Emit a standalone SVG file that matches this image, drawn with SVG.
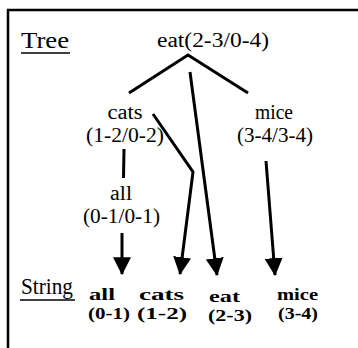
<svg xmlns="http://www.w3.org/2000/svg" width="358" height="348" viewBox="0 0 358 348">
<defs>
<marker id="ah" markerUnits="userSpaceOnUse" markerWidth="18" markerHeight="18" viewBox="0 0 16 16" refX="15" refY="8" orient="auto">
<path d="M0,0 L16,8 L0,16 Z" fill="#000"/>
</marker>
<style>
text{font-family:"Liberation Serif","Times New Roman",serif;fill:#000}
.t{font-size:20px}
.h{font-size:23px}
.b{font-size:17px;font-weight:bold}
.ln{stroke:#000;stroke-width:3;fill:none;stroke-linejoin:miter}
.ar{stroke:#000;stroke-width:3;fill:none;marker-end:url(#ah)}
.fr{stroke:#000;stroke-width:2.5;fill:none}
</style>
</defs>
<rect width="358" height="348" fill="#fff"/>
<path class="fr" d="M8,348 V10 H358"/>
<g id="label-tree">
<text class="h" x="21" y="48" textLength="48" lengthAdjust="spacingAndGlyphs">Tree</text>
<line x1="21" y1="53" x2="70" y2="53" stroke="#000" stroke-width="1.5"/>
</g>
<g id="label-string">
<text class="h" x="21" y="294" textLength="52" lengthAdjust="spacingAndGlyphs">String</text>
<line x1="20" y1="300" x2="75" y2="300" stroke="#000" stroke-width="1.5"/>
</g>
<g id="node-eat">
<text class="t" x="157" y="47" textLength="112" lengthAdjust="spacingAndGlyphs">eat(2-3/0-4)</text>
</g>
<g id="node-cats">
<text class="t" x="125" y="119" text-anchor="middle" textLength="35" lengthAdjust="spacingAndGlyphs">cats</text>
<text class="t" x="86" y="142" textLength="78" lengthAdjust="spacingAndGlyphs">(1-2/0-2)</text>
</g>
<g id="node-mice">
<text class="t" x="274" y="119" text-anchor="middle" textLength="38" lengthAdjust="spacingAndGlyphs">mice</text>
<text class="t" x="237" y="142" textLength="76" lengthAdjust="spacingAndGlyphs">(3-4/3-4)</text>
</g>
<g id="node-all">
<text class="t" x="121" y="200" text-anchor="middle" textLength="22" lengthAdjust="spacingAndGlyphs">all</text>
<text class="t" x="83" y="223" textLength="77" lengthAdjust="spacingAndGlyphs">(0-1/0-1)</text>
</g>
<g id="word-all">
<text class="b" x="89" y="300" textLength="26" lengthAdjust="spacingAndGlyphs">all</text>
<text class="b" x="88" y="319" textLength="42" lengthAdjust="spacingAndGlyphs">(0-1)</text>
</g>
<g id="word-cats">
<text class="b" x="139" y="300" textLength="45" lengthAdjust="spacingAndGlyphs">cats</text>
<text class="b" x="137" y="319" textLength="50" lengthAdjust="spacingAndGlyphs">(1-2)</text>
</g>
<g id="word-eat">
<text class="b" x="209" y="302" textLength="31" lengthAdjust="spacingAndGlyphs">eat</text>
<text class="b" x="208" y="321" textLength="44" lengthAdjust="spacingAndGlyphs">(2-3)</text>
</g>
<g id="word-mice">
<text class="b" x="277" y="300" textLength="41" lengthAdjust="spacingAndGlyphs">mice</text>
<text class="b" x="278" y="319" textLength="40" lengthAdjust="spacingAndGlyphs">(3-4)</text>
</g>
<g id="connectors">
<polyline class="ln" points="129,93 188,55 248,93"/>
<line class="ln" x1="124" y1="149" x2="123.5" y2="178"/>
<line class="ar" x1="122" y1="233" x2="122" y2="274"/>
<polyline class="ar" points="153,114 193,172 180,274"/>
<line class="ar" x1="190" y1="72" x2="217" y2="275"/>
<line class="ar" x1="266" y1="161" x2="275" y2="275"/>
</g>
</svg>
